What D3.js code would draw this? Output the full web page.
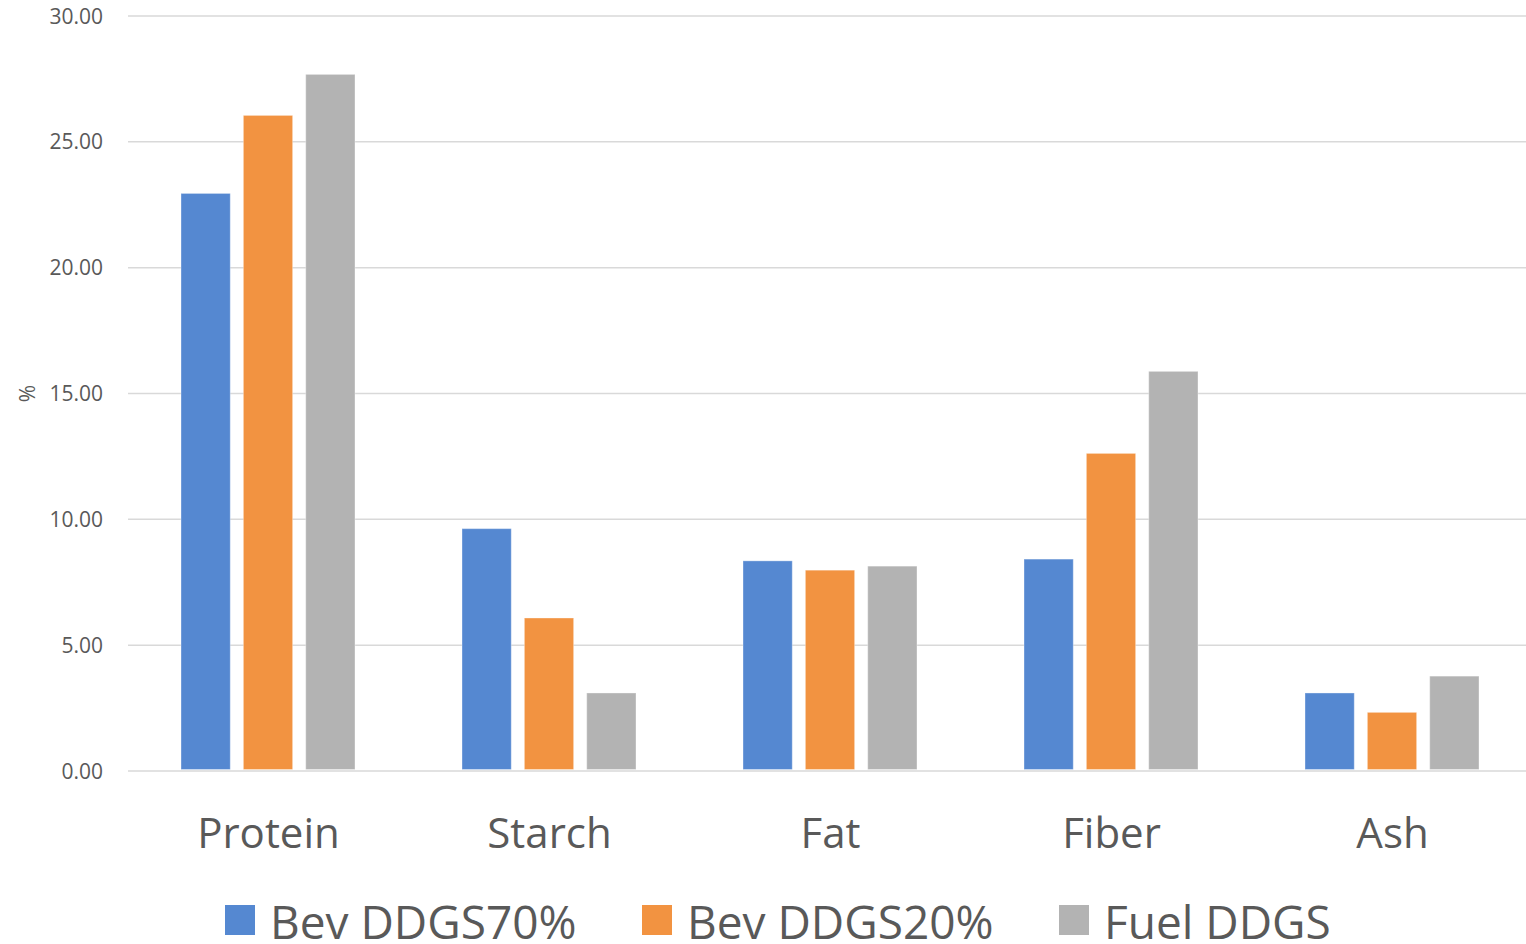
<!DOCTYPE html>
<html>
<head>
<meta charset="utf-8">
<script src="https://cdn.jsdelivr.net/npm/d3@7"></script>
<style>
  body { margin: 0; background: #fff; }
  svg { display: block; font-family: "Open Sans", sans-serif; }
</style>
</head>
<body>
<div id="chart"></div>
<script>
const WIDTH = 1526
const HEIGHT = 944
const MARGIN = {top: 16, right: -7, bottom: 173, left: 128}

// data
const categories = ['Protein', 'Starch', 'Fat', 'Fiber', 'Ash']
const seriesNames = ['Bev DDGS70%', 'Bev DDGS20%', 'Fuel DDGS']
const bevDDGS70 = [22.95, 9.63, 8.35, 8.42, 3.10]
const bevDDGS20 = [26.05, 6.08, 7.98, 12.62, 2.33]
const fuelDDGS = [27.68, 3.10, 8.14, 15.88, 3.77]
const yTicks = [0, 5, 10, 15, 20, 25, 30]
const colors = ['#5588d1', '#f29341', '#b3b3b3']

const seriesValues = [bevDDGS70, bevDDGS20, fuelDDGS]
let rows = categories.map((c, i) => ({
    category: c,
    values: seriesNames.map((s, j) => ({series: s, value: seriesValues[j][i]}))
}))

let svg = d3.select('#chart')
    .append('svg')
    .attr('width', WIDTH)
    .attr('height', HEIGHT)

let x0 = d3.scaleBand()
    .domain(categories)
    .range([MARGIN.left, WIDTH - MARGIN.right])
    .padding(0)

let x1 = d3.scaleBand()
    .domain(seriesNames)
    .range([53, 227])
    .paddingInner(0.21)
    .paddingOuter(0)

let y = d3.scaleLinear()
    .domain([0, 30])
    .range([HEIGHT - MARGIN.bottom, MARGIN.top])

// gridlines
svg.append('g')
    .selectAll('line')
    .data(yTicks)
    .join('line')
    .attr('x1', MARGIN.left)
    .attr('x2', WIDTH)
    .attr('y1', d => y(d))
    .attr('y2', d => y(d))
    .attr('stroke', '#d9d9d9')
    .attr('stroke-width', 1.5)

// y axis labels
svg.append('g')
    .selectAll('text')
    .data(yTicks)
    .join('text')
    .attr('x', 103)
    .attr('y', d => y(d))
    .attr('dy', '0.36em')
    .attr('text-anchor', 'end')
    .style('font-size', '21px')
    .style('fill', '#595959')
    .text(d => d3.format('.2f')(d))

svg.append('text')
    .attr('transform', 'translate(35,' + y(15) + ') rotate(-90)')
    .attr('text-anchor', 'middle')
    .style('font-size', '21px')
    .style('fill', '#595959')
    .text('%')

// bars
let groups = svg.append('g')
    .selectAll('g')
    .data(rows)
    .join('g')
    .attr('transform', d => 'translate(' + x0(d.category) + ',0)')

groups.selectAll('rect')
    .data(d => d.values)
    .join('rect')
    .attr('x', d => x1(d.series))
    .attr('width', x1.bandwidth())
    .attr('y', d => y(d.value))
    .attr('height', d => y(0) - 1.5 - y(d.value))
    .attr('fill', (d, i) => colors[i])
    .attr('stroke', 'rgba(255,255,255,0.35)')
    .attr('stroke-width', 1)

// category labels
svg.append('g')
    .selectAll('text')
    .data(categories)
    .join('text')
    .attr('x', d => x0(d) + x0.bandwidth() / 2)
    .attr('y', 848)
    .attr('text-anchor', 'middle')
    .style('font-size', '42px')
    .style('fill', '#595959')
    .text(d => d)

// legend
const legendX = [225, 642, 1059]
let legend = svg.append('g')
    .selectAll('g')
    .data(seriesNames)
    .join('g')
    .attr('transform', (d, i) => 'translate(' + legendX[i] + ',905)')

legend.append('rect')
    .attr('width', 30)
    .attr('height', 30)
    .attr('fill', (d, i) => colors[i])

legend.append('text')
    .attr('x', 45)
    .attr('y', 34)
    .style('font-size', '46px')
    .style('fill', '#595959')
    .text(d => d)
</script>
</body>
</html>
